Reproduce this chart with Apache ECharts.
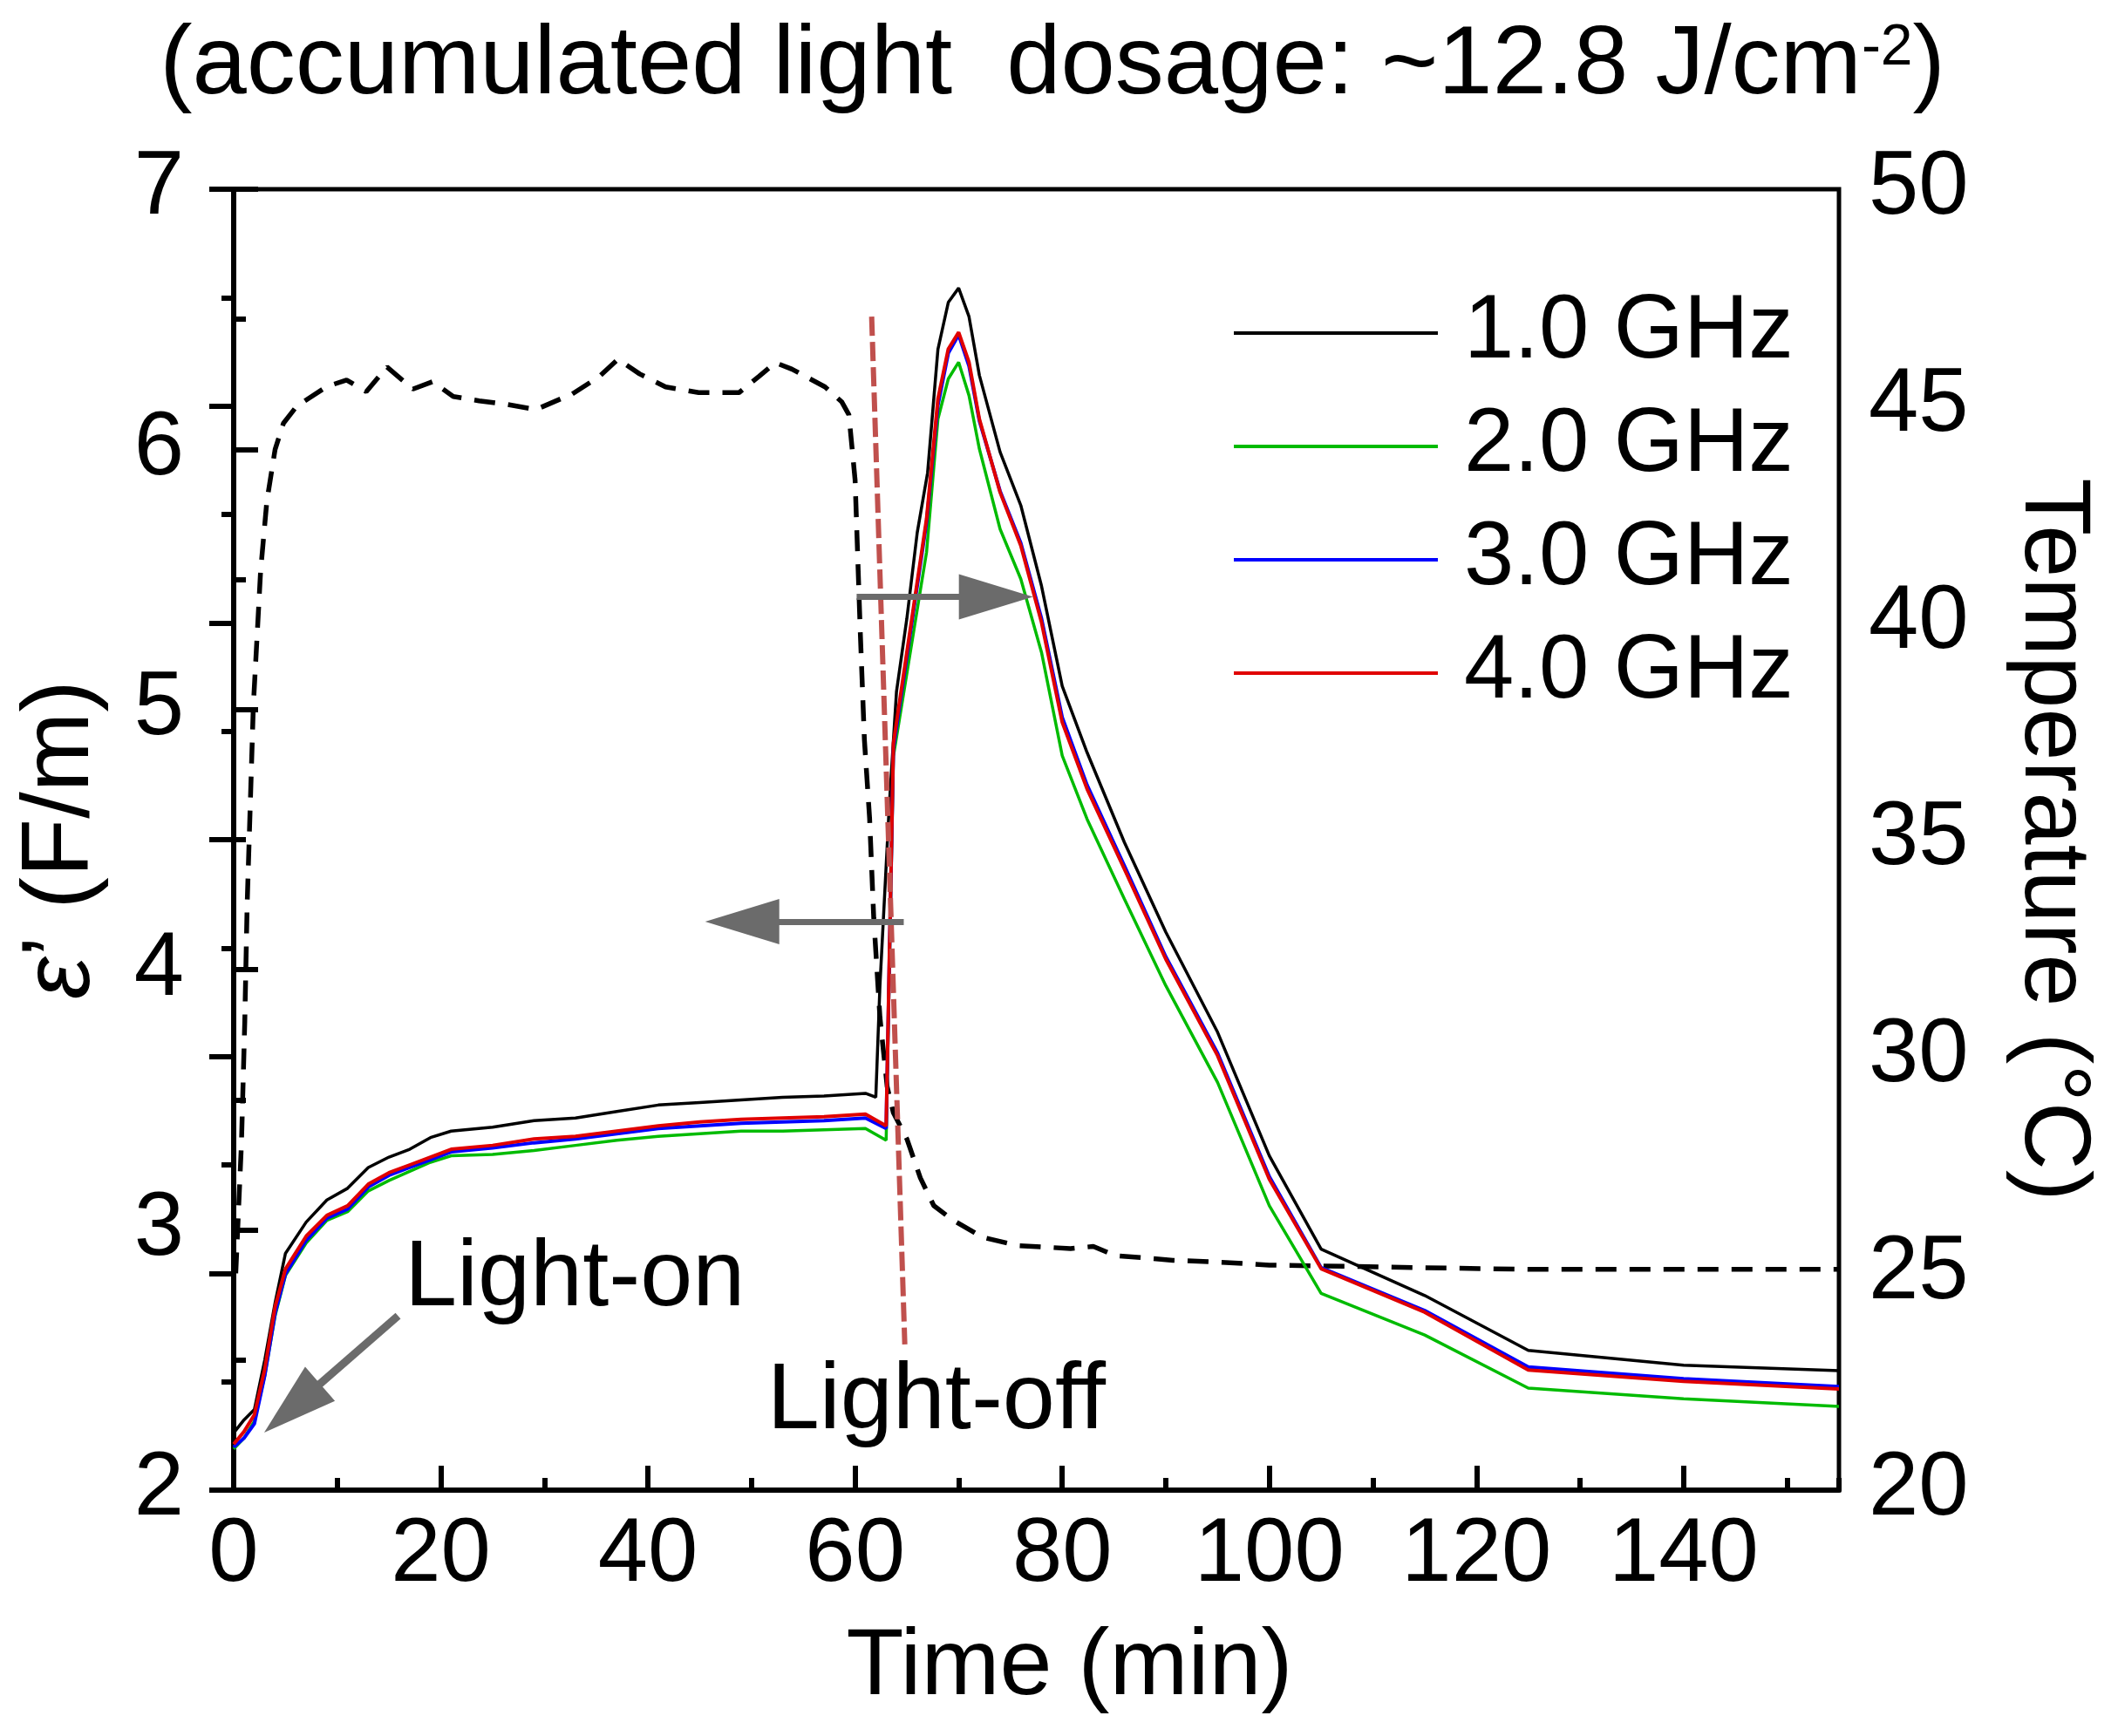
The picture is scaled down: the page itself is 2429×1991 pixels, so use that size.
<!DOCTYPE html>
<html>
<head>
<meta charset="utf-8">
<script src="https://cdn.jsdelivr.net/npm/echarts@6/dist/echarts.min.js"></script>
<style>
html,body{margin:0;padding:0;background:#fff}
#main{width:2429px;height:1991px}
</style>
</head>
<body>
<div id="main"></div>
<script>
var FONT = "'Liberation Sans', Arial, sans-serif";

// ---- permittivity, 1.0 GHz (own time base) ----
var tBlack = [0,1,2,3,4,5,7,9,11,13,15,17,19,21,25,29,33,37,41,45,49,53,57,61,
  62,62.4,63.3,64,65,66,67,68,69,70,71,72,74,76,78,80,82.4,86,90,95,100,105,115,125,140,155];
var eps1 = [2.22,2.27,2.31,2.50,2.72,2.91,3.03,3.115,3.16,3.24,3.28,3.31,3.355,3.38,
  3.395,3.42,3.43,3.455,3.48,3.49,3.50,3.51,3.515,3.525,
  3.51,3.94,4.63,5.07,5.35,5.68,5.91,6.385,6.565,6.62,
  6.51,6.285,5.99,5.785,5.475,5.09,4.835,4.49,4.145,3.76,
  3.285,2.926,2.748,2.537,2.48,2.459];

// ---- permittivity, 2.0 / 3.0 / 4.0 GHz (shared time base) ----
var tColor = [0,1,2,3,4,5,7,9,11,13,15,17,19,21,25,29,33,37,41,45,49,53,57,61,
  63,63.7,66.9,68,69,70,71,72,74,76,78,80,82.4,86,90,95,100,105,115,125,140,155];
var eps2 = [2.158,2.20,2.265,2.44,2.67,2.825,2.95,3.037,3.07,3.15,3.19,3.225,3.26,3.285,
  3.29,3.305,3.325,3.345,3.36,3.37,3.38,3.38,3.385,3.39,
  3.345,4.82,5.605,6.117,6.271,6.335,6.207,6.002,5.694,5.502,
  5.22,4.823,4.579,4.272,3.939,3.567,3.093,2.756,2.596,2.392,2.351,2.322];
var eps3 = [2.165,2.20,2.255,2.44,2.68,2.83,2.96,3.045,3.08,3.165,3.21,3.24,3.27,3.30,
  3.315,3.335,3.35,3.37,3.39,3.40,3.41,3.415,3.42,3.43,
  3.39,4.85,5.72,6.17,6.37,6.44,6.32,6.11,5.84,5.64,
  5.35,4.97,4.71,4.40,4.05,3.68,3.205,2.855,2.69,2.473,2.428,2.398];
var eps4 = [2.177,2.225,2.29,2.465,2.705,2.85,2.976,3.056,3.093,3.176,3.22,3.25,3.28,3.31,
  3.325,3.35,3.36,3.38,3.40,3.415,3.425,3.43,3.435,3.445,
  3.40,4.87,5.733,6.194,6.386,6.45,6.335,6.117,5.835,5.63,
  5.335,4.951,4.695,4.387,4.041,3.67,3.195,2.851,2.684,2.462,2.418,2.389];

// ---- temperature (right axis) ----
var tTemp = [0.2,0.75,1.07,1.3,1.9,2.6,3.2,4.0,4.8,6.1,9.0,10.9,12.8,14.8,17.3,19.2,21.2,23.7,26.3,29.2,
  32.7,35.3,37.1,39.2,41.7,44.9,48.8,50.7,52.3,53.9,57.1,58.7,59.4,60.0,60.5,60.9,61.4,61.8,62.4,63.1,
  63.7,65.0,66.3,67.6,69.3,72.3,75.7,80.8,83.0,85.1,90.7,95.8,100,115,125,155];
var temp = [25.0,28.0,30.8,33.5,38.1,41.2,42.8,44.0,44.6,45.0,45.45,45.6,45.33,45.9,45.39,45.56,45.22,45.12,45.04,44.92,
  45.28,45.68,46.08,45.74,45.44,45.31,45.31,45.68,46.0,45.85,45.44,45.1,44.8,43.3,39.8,37.3,35.5,33.2,30.9,29.3,
  28.7,28.1,27.2,26.56,26.25,25.83,25.64,25.57,25.62,25.41,25.3,25.25,25.19,25.13,25.09,25.09];

var seriesNames = ['1.0 GHz','2.0 GHz','3.0 GHz','4.0 GHz'];
var seriesColors = ['#000000','#00bb00','#0000ff','#e00000'];

// annotation anchors (time, eps)
var lightOffLine = [[61.6, 6.51], [64.8, 2.56]];
var arrowRight = [[60.15, 5.433], [73.6, 5.433]];
var arrowLeft = [[64.7, 4.185], [49.1, 4.185]];
var arrowOn = [[15.87, 2.67], [5.64, 2.315]];
var lightOnAt = [16.5, 2.811];
var lightOffAt = [51.5, 2.338];

function zip(xs, ys){
  var out = [];
  for (var i = 0; i < xs.length; i++) out.push([xs[i], ys[i]]);
  return out;
}

function arrow(p, w){
  return [
    {coord: p[0], symbol: 'none', lineStyle: {color: '#6b6b6b', width: w, type: 'solid'}},
    {coord: p[1], symbol: 'triangle', symbolSize: [52, 85]}
  ];
}

var chart = echarts.init(document.getElementById('main'));

var option = {
  animation: false,
  backgroundColor: '#fff',
  textStyle: {fontFamily: FONT, color: '#000'},
  grid: {left: 268, right: 320, top: 217, bottom: 282, show: true,
    borderColor: '#000', borderWidth: 5, outerBoundsMode: 'none', containLabel: false},
  legend: {
    data: seriesNames,
    orient: 'vertical',
    left: 1410, top: 312,
    icon: 'rect', itemWidth: 234, itemHeight: 4, itemGap: 0,
    textStyle: {fontFamily: FONT, fontSize: 103, color: '#000', lineHeight: 130, padding: [0,0,0,25]}
  },
  xAxis: [{
    type: 'value', min: 0, max: 155, interval: 20, position: 'bottom',
    axisLine: {show: true, lineStyle: {color: '#000', width: 6}},
    axisTick: {inside: true, length: 28, lineStyle: {color: '#000', width: 6}},
    axisLabel: {fontFamily: FONT, fontSize: 103, color: '#000', margin: 24, showMaxLabel: false},
    splitLine: {show: false},
    name: 'Time (min)', nameLocation: 'middle', nameGap: 150,
    nameTextStyle: {fontFamily: FONT, fontSize: 108, color: '#000', padding: [0,0,0,76]}
  }, {
    type: 'value', min: 0, max: 155, interval: 10, position: 'bottom',
    axisLine: {show: false},
    axisTick: {inside: true, length: 14, lineStyle: {color: '#000', width: 6}},
    axisLabel: {show: false},
    splitLine: {show: false}
  }],
  yAxis: [{
    type: 'value', min: 2, max: 7, interval: 1, position: 'left',
    axisLine: {show: true, lineStyle: {color: '#000', width: 6}},
    axisTick: {inside: true, length: 28, lineStyle: {color: '#000', width: 6}},
    minorTick: {show: true, splitNumber: 2, length: 14, lineStyle: {color: '#000', width: 6}},
    axisLabel: {fontFamily: FONT, fontSize: 103, color: '#000', margin: 57},
    splitLine: {show: false},
    name: '{e|\u03b5}\u2019 (F/m)', nameLocation: 'middle', nameGap: 142,
    nameTextStyle: {fontFamily: FONT, fontSize: 110, color: '#000',
      rich: {e: {fontFamily: FONT, fontSize: 110, fontStyle: 'italic', color: '#000'}}}
  }, {
    type: 'value', min: 20, max: 50, interval: 5, position: 'right',
    axisLine: {show: true, lineStyle: {color: '#000', width: 6}},
    axisTick: {inside: true, length: 28, lineStyle: {color: '#000', width: 6}},
    minorTick: {show: true, splitNumber: 2, length: 14, lineStyle: {color: '#000', width: 6}},
    axisLabel: {fontFamily: FONT, fontSize: 103, color: '#000', margin: 34},
    splitLine: {show: false},
    name: 'Temperature (\u00b0C)', nameLocation: 'middle', nameGap: 190, nameRotate: -90,
    nameTextStyle: {fontFamily: FONT, fontSize: 108, color: '#000'}
  }],
  series: [
    {
      name: 'Temperature', type: 'line', xAxisIndex: 0, yAxisIndex: 1,
      data: zip(tTemp, temp), showSymbol: false, symbol: 'none',
      lineStyle: {color: '#000', width: 5.5, type: [24, 15]}
    },
    {
      name: seriesNames[0], type: 'line', xAxisIndex: 0, yAxisIndex: 0,
      data: zip(tBlack, eps1), showSymbol: false, symbol: 'none',
      lineStyle: {color: seriesColors[0], width: 3.5}, itemStyle: {color: seriesColors[0]}
    },
    {
      name: seriesNames[1], type: 'line', xAxisIndex: 0, yAxisIndex: 0,
      data: zip(tColor, eps2), showSymbol: false, symbol: 'none',
      lineStyle: {color: seriesColors[1], width: 3.5}, itemStyle: {color: seriesColors[1]}
    },
    {
      name: seriesNames[2], type: 'line', xAxisIndex: 0, yAxisIndex: 0,
      data: zip(tColor, eps3), showSymbol: false, symbol: 'none',
      lineStyle: {color: seriesColors[2], width: 4}, itemStyle: {color: seriesColors[2]}
    },
    {
      name: seriesNames[3], type: 'line', xAxisIndex: 0, yAxisIndex: 0,
      data: zip(tColor, eps4), showSymbol: false, symbol: 'none',
      lineStyle: {color: seriesColors[3], width: 4}, itemStyle: {color: seriesColors[3]},
      markLine: {
        silent: true, animation: false,
        label: {show: false},
        emphasis: {disabled: true},
        data: [
          [{coord: lightOffLine[0], symbol: 'none', lineStyle: {color: '#c0504d', width: 6, type: [22, 7]}},
           {coord: lightOffLine[1], symbol: 'none'}],
          arrow(arrowRight, 7),
          arrow(arrowLeft, 7),
          arrow(arrowOn, 9)
        ]
      }
    }
  ]
};
chart.setOption(option);

// text annotations anchored in data space
var pOn = chart.convertToPixel({xAxisIndex: 0, yAxisIndex: 0}, lightOnAt);
var pOff = chart.convertToPixel({xAxisIndex: 0, yAxisIndex: 0}, lightOffAt);
chart.setOption({
  graphic: [
    {type: 'text', x: 1207, y: 76, style: {
      text: '{a|(accumulated light  dosage: ~12.8 J/cm}{s|-2}{a|)}',
      align: 'center', verticalAlign: 'middle',
      rich: {
        a: {fontFamily: FONT, fontSize: 112, fill: '#000'},
        s: {fontFamily: FONT, fontSize: 66, fill: '#000', padding: [0, 0, 40, 0]}
      }}},
    {type: 'text', x: pOn[0], y: pOn[1], style: {text: 'Light-on', fontFamily: FONT,
      fontSize: 108, fill: '#000', align: 'left', verticalAlign: 'middle'}},
    {type: 'text', x: pOff[0], y: pOff[1], style: {text: 'Light-off', fontFamily: FONT,
      fontSize: 108, fill: '#000', align: 'left', verticalAlign: 'middle'}}
  ]
});
</script>
</body>
</html>
